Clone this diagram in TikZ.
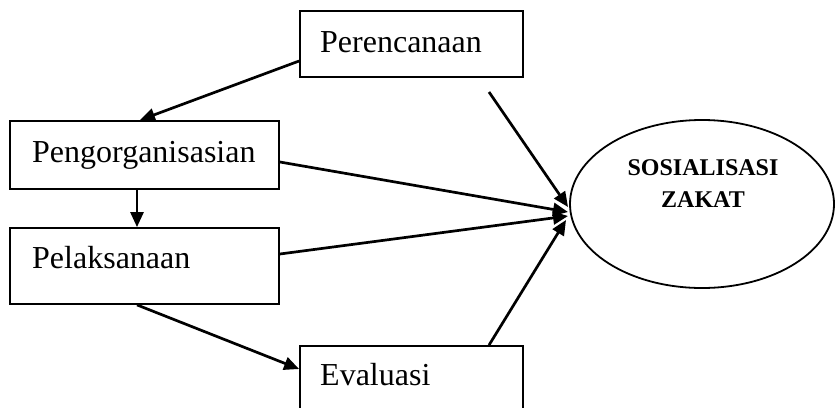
\documentclass[tikz,border=0pt]{standalone}
\usepackage{fontspec}
\setmainfont{Liberation Serif}
\usetikzlibrary{arrows.meta,shapes.geometric}
\begin{document}
\begin{tikzpicture}[x=1pt,y=-1pt,
  stagebox/.style={draw,line width=1.8pt,inner sep=0pt},
  stagetext/.style={anchor=base west,inner sep=0pt,font=\fontsize{32}{38}\selectfont},
  flow/.style={line width=2.7pt,-{Triangle[length=15pt,width=13pt]}}]
\useasboundingbox (0,0) rectangle (837,407);
\clip (0,0) rectangle (837,407);

% stage boxes
\node[stagebox,minimum width=223pt,minimum height=66pt] (perenc) at (411.5,44) {};
\node[stagebox,minimum width=269pt,minimum height=68pt] (organ) at (144.5,155) {};
\node[stagebox,minimum width=269pt,minimum height=76pt] (laksana) at (144.5,266) {};
\node[stagebox,minimum width=223pt,minimum height=90pt] (eval) at (411.5,391) {};

% box labels
\node[stagetext] (tperenc) at (320,52) {Perencanaan};
\node[stagetext] (torgan) at (32,162) {Pengorganisasian};
\node[stagetext] (tlaksana) at (32,268) {Pelaksanaan};
\node[stagetext] (teval) at (320,385) {Evaluasi};

% goal ellipse
\node[draw,ellipse,line width=1.8pt,minimum width=264pt,minimum height=168pt,inner sep=0pt] (goal) at (702,204) {};
\node[align=center,inner sep=0pt,font=\bfseries\fontsize{24}{32}\selectfont] (tgoal) at (703,184) {SOSIALISASI\\ZAKAT};

% arrow tips at the ellipse
\coordinate (tipA) at (568,207);
\coordinate (tipB) at (568,212);
\coordinate (tipC) at (568,216);
\coordinate (tipD) at (566,220);
\coordinate (startA) at (489,92);

% connectors
\draw[flow] ([yshift=-17pt]perenc.west) -- ([xshift=-4.5pt]organ.north);
\draw[flow] ([xshift=-7.5pt]organ.south) -- ([xshift=-7.5pt]laksana.north);
\draw[flow] ([xshift=-7.5pt]laksana.south) -- (eval.west |- 0,369);
\draw[flow] (startA) -- (tipA);
\draw[flow] ([yshift=-7pt]organ.east) -- (tipB);
\draw[flow] ([yshift=12pt]laksana.east) -- (tipC);
\draw[flow] ([xshift=77.5pt]eval.north) -- (tipD);
\end{tikzpicture}
\end{document}
